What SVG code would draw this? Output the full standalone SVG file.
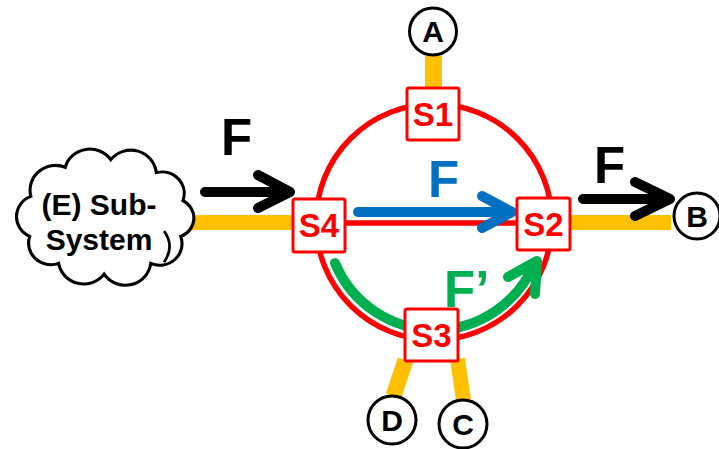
<svg xmlns="http://www.w3.org/2000/svg" width="719" height="449" viewBox="0 0 719 449">
<style>
.bar{stroke:#FFC000;fill:none}
.ybox{fill:#FFC000}
.red{stroke:#FF0000;stroke-width:5.5;fill:none}
.sbox{fill:#FFFFFF;stroke:#FF0000;stroke-width:3}
.slbl{font-family:"Liberation Sans",Arial,sans-serif;font-weight:bold;font-size:33px;fill:#FF0000;text-anchor:middle}
.port{fill:#FFFFFF;stroke:#000000;stroke-width:3}
.plbl{font-family:"Liberation Sans",Arial,sans-serif;font-weight:bold;font-size:30px;fill:#000000;text-anchor:middle}
.clbl{font-family:"Liberation Sans",Arial,sans-serif;font-weight:bold;font-size:30px;fill:#000000;text-anchor:middle}
.big{font-family:"Liberation Sans",Arial,sans-serif;font-weight:bold;font-size:51px}
.arr{fill:none;stroke-linecap:round;stroke-linejoin:round;stroke-width:10}
</style>
<rect x="0" y="0" width="719" height="449" fill="#FFFFFF"/>
<g id="connectors">
  <rect class="ybox" x="425" y="56" width="17" height="33"/>
  <rect class="ybox" x="180" y="215" width="114" height="15"/>
  <rect class="ybox" x="569" y="215" width="102" height="15"/>
  <line class="bar" x1="405.5" y1="360" x2="393.5" y2="396" stroke-width="16"/>
  <line class="bar" x1="457.5" y1="359" x2="463.5" y2="400" stroke-width="15"/>
  <circle class="red" cx="434" cy="222" r="118"/>
  <line class="red" x1="345" y1="223" x2="517" y2="223"/>
  <path class="arr" stroke="#000000" d="M205,192 L287,192 M258,175 L290,192 L258,208"/>
  <path class="arr" stroke="#000000" d="M583,199 L667,199 M635,182 L670,199 L635,216"/>
  <path class="arr" stroke="#0070C0" stroke-width="9" d="M358,212 L509,212 M482,196 L512,212 L482,228"/>
  <path class="arr" stroke="#00B050" stroke-width="9" d="M335,263 A108,108 0 0 0 535,262 M508,277 L537,261 L535,294"/>
</g>
<g id="labels-F">
  <text class="big" x="221" y="155" fill="#000000">F</text>
  <text class="big" x="594" y="183" fill="#000000">F</text>
  <text class="big" x="428" y="197" fill="#0070C0">F</text>
  <text class="big" x="444" y="307" fill="#00B050">F’</text>
</g>
<g id="E">
  <g transform="translate(103,218) scale(1.11,1.08) translate(-102,-220)">
    <path fill="#FFFFFF" stroke="#000000" stroke-width="2.8" d="M37,200 A23,23 0 0 1 68,173 A23,23 0 0 1 109,166 A23,23 0 0 1 150,178 A20,20 0 0 1 174,204 A18,18 0 0 1 172,237 A20,20 0 0 1 145,262 A23,23 0 0 1 103,272 A23,23 0 0 1 62,262 A20,20 0 0 1 36,237 A20,20 0 0 1 37,200 Z"/>
    <path fill="none" stroke="#000000" stroke-width="2.5" d="M157,232 Q167,246 157,261"/>
  </g>
  <text class="clbl" x="99" y="215">(E) Sub-</text>
  <text class="clbl" x="99" y="250">System</text>
</g>
<g id="S1"><rect class="sbox" x="407" y="88" width="52" height="52" rx="2"/><text class="slbl" x="433" y="126">S1</text></g>
<g id="S2"><rect class="sbox" x="517" y="198" width="53" height="52" rx="2"/><text class="slbl" x="543.5" y="236">S2</text></g>
<g id="S3"><rect class="sbox" x="405" y="309" width="53" height="52" rx="2"/><text class="slbl" x="431.5" y="347">S3</text></g>
<g id="S4"><rect class="sbox" x="293" y="199" width="52" height="53" rx="2"/><text class="slbl" x="319" y="237">S4</text></g>
<g id="A"><circle class="port" cx="433" cy="31.5" r="23.5"/><text class="plbl" x="433" y="42">A</text></g>
<g id="B"><circle class="port" cx="697" cy="216" r="23"/><text class="plbl" x="697" y="227">B</text></g>
<g id="C"><circle class="port" cx="463" cy="424" r="24"/><text class="plbl" x="463" y="435">C</text></g>
<g id="D"><circle class="port" cx="392" cy="420" r="24"/><text class="plbl" x="392" y="431">D</text></g>
</svg>
